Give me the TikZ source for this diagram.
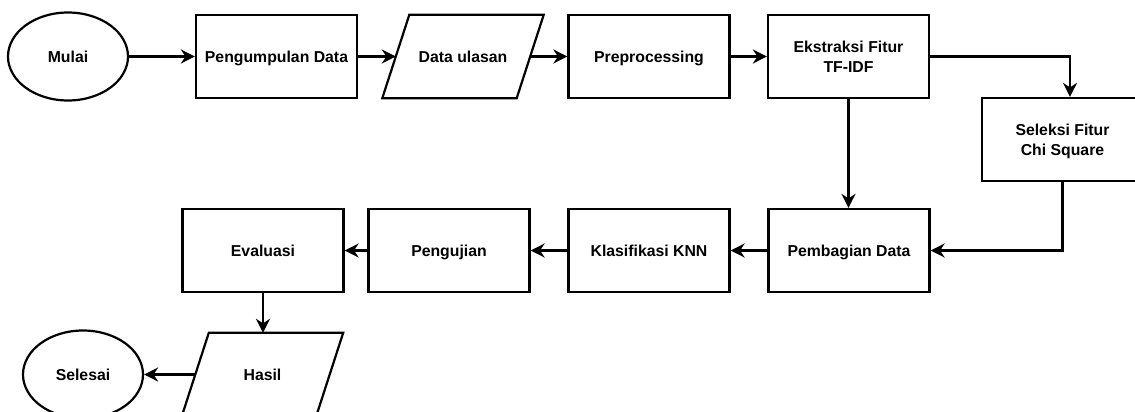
\documentclass[tikz,border=0pt]{standalone}
\usepackage{fontspec}
\setmainfont{Liberation Sans}
\usetikzlibrary{shapes.geometric,arrows.meta}
% vertical strut so every line sits at the same height
\newcommand{\lnstrut}{\rule[-4pt]{0pt}{19.5pt}}
% slanted outline of an input/output node (skew 13.5pt on each side)
\newcommand{\iooutline}[1]{%
  \draw[outline] ([xshift=-13.5pt]#1.south west) -- ([xshift=13.5pt]#1.north west)
    -- ([xshift=13.5pt]#1.north east) -- ([xshift=-13.5pt]#1.south east) -- cycle;}

\begin{document}
\begin{tikzpicture}[x=1pt,y=-1pt,
  every node/.style={font=\fontsize{15.8}{20.5}\selectfont\bfseries, align=center, inner sep=0pt},
  outline/.style={line width=2.2pt, line join=miter},
  procbox/.style={draw, outline, rectangle, minimum width=161pt, minimum height=83pt},
  iobox/.style={rectangle, minimum width=134pt, minimum height=83pt},
  termbox/.style={draw, outline, ellipse, minimum width=120pt, minimum height=88pt},
  flow/.style={line width=2.2pt, -{Stealth[length=14pt,width=14pt,inset=4.5pt]}}
]
\fill[white] (0,0) rectangle (1135,412);
\useasboundingbox (0,0) rectangle (1135,412);

% top row
\node[termbox] (mulai) at (68,56.5) {\lnstrut Mulai};
\node[procbox] (kumpul) at (276.5,56.5) {\lnstrut Pengumpulan Data};
\node[iobox]   (ulasan) at (463,56.5) {\lnstrut Data ulasan};
\iooutline{ulasan}
\node[procbox] (prep) at (649,56.5) {\lnstrut Preprocessing};
\node[procbox] (tfidf) at (848.5,56.5) {\lnstrut Ekstraksi Fitur\\\lnstrut TF-IDF};
\node[procbox] (chi) at (1062.5,139.5) {\lnstrut Seleksi Fitur\\\lnstrut Chi Square};

% bottom row
\node[procbox] (bagi) at (849,250.5) {\lnstrut Pembagian Data};
\node[procbox] (knn) at (649,250.5) {\lnstrut Klasifikasi KNN};
\node[procbox] (uji) at (449,250.5) {\lnstrut Pengujian};
\node[procbox] (eval) at (263,250.5) {\lnstrut Evaluasi};
\node[iobox]   (hasil) at (262.5,374.5) {\lnstrut Hasil};
\iooutline{hasil}
\node[termbox] (selesai) at (83,374.5) {\lnstrut Selesai};

% connectors
\draw[flow] (mulai.east) -- (kumpul.west);
\draw[flow] (kumpul.east) -- (ulasan.west);
\draw[flow] (ulasan.east) -- (prep.west);
\draw[flow] (prep.east) -- (tfidf.west);
\draw[flow] (tfidf.east) -| ([xshift=7.5pt]chi.north);
\draw[flow] (tfidf.south) -- (tfidf.south |- bagi.north);
\draw[flow] (chi.south) |- (bagi.east);
\draw[flow] (bagi.west) -- (knn.east);
\draw[flow] (knn.west) -- (uji.east);
\draw[flow] (uji.west) -- (eval.east);
\draw[flow] (eval.south) -- (eval.south |- hasil.north);
\draw[flow] (hasil.west) -- (selesai.east);
\end{tikzpicture}
\end{document}
